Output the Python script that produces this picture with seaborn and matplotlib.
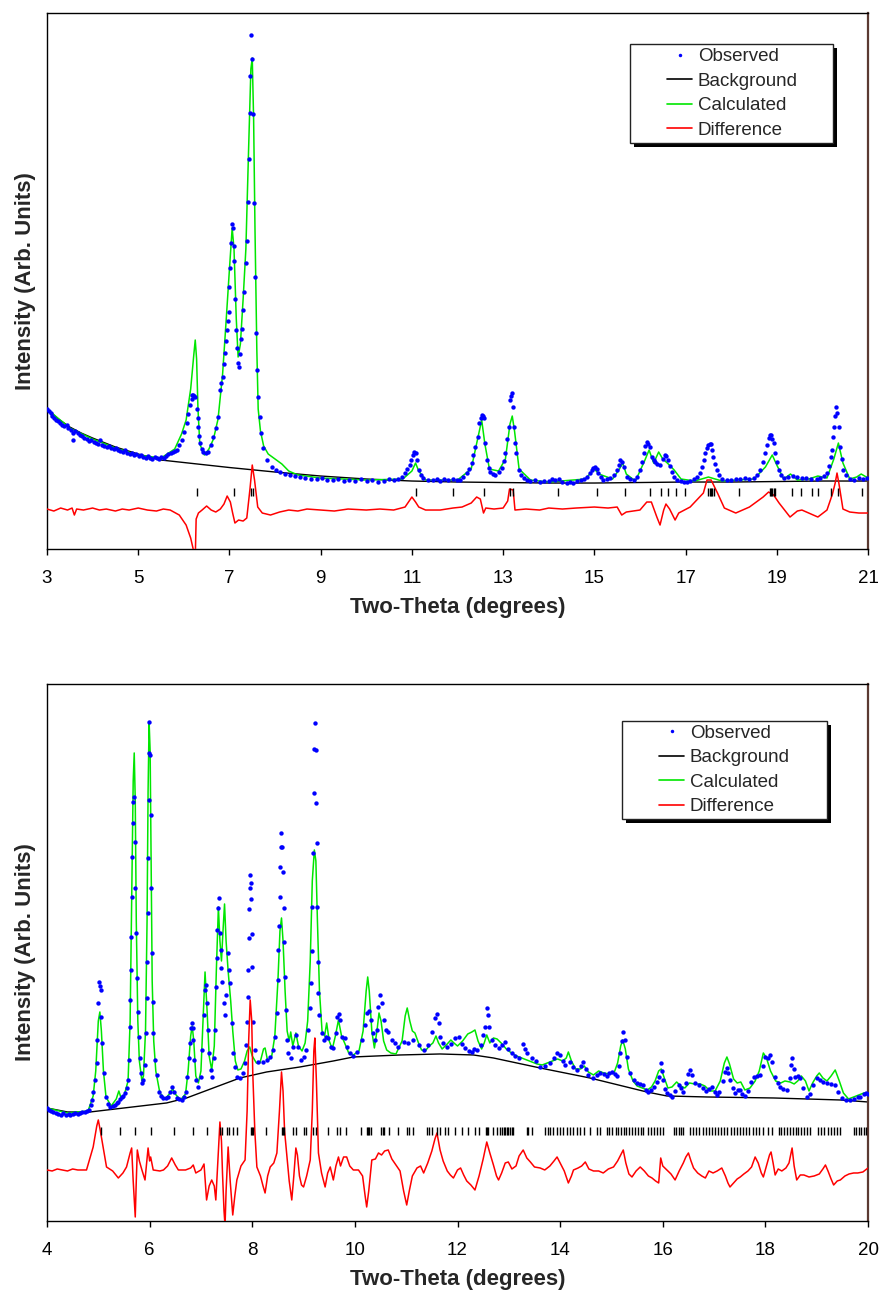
import matplotlib
matplotlib.use("Agg")
import matplotlib.pyplot as plt
import pandas as pd
import seaborn as sns
from matplotlib.lines import Line2D
from matplotlib.patches import Rectangle

# ---------------- top pattern (3-21 deg), intensity in arbitrary units ----------------
obs_top = [
    (3.00, 140), (3.04, 138), (3.08, 136), (3.12, 133), (3.16, 131), (3.20, 129), (3.25, 128),
    (3.29, 126), (3.33, 124), (3.38, 123), (3.43, 124), (3.47, 121), (3.52, 119), (3.57, 116),
    (3.58, 109), (3.62, 118), (3.67, 116), (3.72, 114), (3.77, 113), (3.82, 111), (3.87, 110),
    (3.92, 108), (3.97, 109), (4.02, 107), (4.07, 106), (4.12, 105), (4.16, 109), (4.21, 104),
    (4.26, 103), (4.31, 102), (4.36, 103), (4.41, 101), (4.46, 100), (4.51, 101), (4.56, 99),
    (4.61, 98), (4.66, 97), (4.71, 99), (4.76, 96), (4.81, 95), (4.86, 96), (4.91, 94),
    (4.96, 95), (5.01, 93), (5.06, 94), (5.11, 92), (5.16, 91), (5.21, 93), (5.26, 91),
    (5.31, 90), (5.36, 92), (5.41, 91), (5.46, 90), (5.51, 92), (5.56, 91), (5.61, 93),
    (5.66, 95), (5.71, 96), (5.76, 97), (5.80, 98), (5.84, 99), (5.90, 104), (5.95, 109),
    (6.00, 117), (6.06, 126), (6.10, 135), (6.14, 144), (6.17, 150), (6.19, 154), (6.21, 154),
    (6.23, 153), (6.25, 152), (6.28, 140), (6.30, 131), (6.32, 122), (6.34, 113), (6.36, 106),
    (6.40, 100), (6.43, 97), (6.48, 96), (6.54, 97), (6.60, 104), (6.65, 112), (6.70, 121),
    (6.76, 132), (6.79, 159), (6.82, 166), (6.85, 172), (6.88, 185), (6.90, 196), (6.92, 208),
    (6.94, 219), (6.96, 228), (6.98, 237), (6.99, 262), (7.01, 281), (7.04, 306), (7.05, 325),
    (7.07, 321), (7.09, 303), (7.10, 288), (7.12, 250), (7.14, 219), (7.17, 201), (7.19, 186),
    (7.20, 182), (7.23, 195), (7.26, 210), (7.28, 220), (7.30, 239), (7.33, 257), (7.36, 286),
    (7.38, 308), (7.40, 347), (7.42, 390), (7.44, 436), (7.46, 473), (7.47, 514), (7.50, 490),
    (7.52, 435), (7.54, 346), (7.56, 272), (7.59, 216), (7.61, 179), (7.63, 152), (7.66, 132),
    (7.69, 116), (7.74, 101), (7.82, 89), (7.93, 82), (8.02, 79), (8.11, 77), (8.22, 75),
    (8.33, 74), (8.44, 73), (8.55, 72), (8.66, 71), (8.78, 70), (8.91, 70), (9.02, 71),
    (9.14, 69), (9.27, 69), (9.39, 70), (9.51, 68), (9.63, 69), (9.75, 68), (9.88, 70),
    (10.01, 68), (10.13, 69), (10.26, 67), (10.38, 68), (10.50, 70), (10.60, 69), (10.70, 70),
    (10.78, 72), (10.85, 76), (10.90, 80), (10.95, 84), (10.99, 89), (11.02, 94), (11.05, 97),
    (11.08, 96), (11.11, 89), (11.16, 79), (11.21, 74), (11.25, 71), (11.36, 69), (11.47, 69),
    (11.55, 70), (11.62, 68), (11.71, 70), (11.80, 69), (11.90, 70), (11.98, 69), (12.06, 69),
    (12.13, 72), (12.20, 76), (12.26, 80), (12.31, 86), (12.35, 94), (12.39, 102), (12.44, 112),
    (12.48, 126), (12.51, 131), (12.53, 134), (12.55, 133), (12.57, 131), (12.60, 106),
    (12.64, 89), (12.68, 81), (12.71, 77), (12.77, 75), (12.82, 74), (12.90, 77), (12.97, 81),
    (13.01, 88), (13.04, 96), (13.08, 110), (13.12, 122), (13.15, 149), (13.17, 153),
    (13.19, 156), (13.21, 142), (13.24, 122), (13.27, 106), (13.29, 96), (13.34, 79),
    (13.40, 74), (13.45, 71), (13.53, 69), (13.60, 68), (13.70, 69), (13.81, 67), (13.90, 68),
    (14.00, 68), (14.07, 70), (14.14, 69), (14.22, 70), (14.30, 67), (14.40, 66), (14.47, 67),
    (14.54, 66), (14.62, 68), (14.70, 69), (14.77, 70), (14.84, 72), (14.90, 76), (14.94, 79),
    (14.98, 81), (15.02, 82), (15.05, 80), (15.09, 76), (15.14, 72), (15.20, 69), (15.28, 70),
    (15.35, 71), (15.42, 74), (15.49, 79), (15.54, 84), (15.57, 89), (15.60, 87), (15.64, 82),
    (15.71, 72), (15.78, 70), (15.86, 69), (15.93, 72), (16.00, 79), (16.05, 87), (16.09, 96),
    (16.12, 103), (16.15, 107), (16.18, 105), (16.21, 102), (16.26, 92), (16.30, 89),
    (16.33, 87), (16.38, 85), (16.44, 84), (16.50, 90), (16.55, 94), (16.58, 93), (16.62, 89),
    (16.66, 83), (16.70, 77), (16.75, 72), (16.81, 69), (16.90, 68), (16.97, 67), (17.03, 67),
    (17.10, 68), (17.18, 70), (17.25, 72), (17.31, 76), (17.36, 82), (17.40, 89), (17.43, 96),
    (17.46, 101), (17.49, 104), (17.53, 105), (17.56, 105), (17.58, 99), (17.61, 92),
    (17.65, 85), (17.69, 79), (17.74, 74), (17.80, 70), (17.90, 69), (18.00, 69), (18.10, 70),
    (18.20, 70), (18.30, 71), (18.40, 70), (18.49, 71), (18.57, 74), (18.64, 79), (18.70, 87),
    (18.75, 96), (18.79, 104), (18.82, 111), (18.85, 114), (18.87, 114), (18.90, 110),
    (18.93, 106), (18.96, 96), (19.00, 87), (19.04, 79), (19.09, 74), (19.15, 71), (19.25, 72),
    (19.35, 73), (19.45, 72), (19.55, 71), (19.65, 71), (19.75, 70), (19.88, 70), (19.95, 71),
    (20.03, 73), (20.10, 76), (20.15, 83), (20.19, 92), (20.21, 99), (20.24, 112), (20.26, 122),
    (20.28, 133), (20.30, 142), (20.33, 136), (20.36, 122), (20.39, 102), (20.42, 90),
    (20.46, 79), (20.52, 74), (20.61, 70), (20.70, 69), (20.80, 71), (20.90, 70), (20.98, 71),
]

calc_top = [
    (3.0, 140), (3.5, 121), (4.0, 110), (4.5, 101), (5.0, 94), (5.5, 91), (5.8, 100),
    (5.95, 115), (6.05, 129), (6.15, 160), (6.22, 195), (6.25, 209), (6.28, 190), (6.31, 140),
    (6.35, 105), (6.45, 94), (6.55, 100), (6.65, 110), (6.75, 130), (6.85, 175), (6.93, 230),
    (7.00, 280), (7.06, 321), (7.10, 300), (7.15, 230), (7.19, 192), (7.24, 205), (7.30, 250),
    (7.36, 300), (7.42, 400), (7.47, 480), (7.50, 491), (7.53, 430), (7.56, 320), (7.60, 200),
    (7.63, 140), (7.68, 118), (7.75, 103), (7.85, 95), (8.0, 90), (8.15, 85), (8.3, 78),
    (8.5, 74), (9.0, 71), (10.0, 69), (10.8, 70), (11.0, 78), (11.08, 86), (11.15, 78),
    (11.3, 69), (12.0, 69), (12.3, 80), (12.45, 112), (12.53, 129), (12.6, 105), (12.7, 80),
    (12.9, 78), (13.05, 90), (13.15, 125), (13.2, 133), (13.25, 118), (13.35, 80), (13.6, 69),
    (14.0, 67), (14.8, 70), (15.0, 80), (15.1, 75), (15.4, 70), (15.55, 80), (15.62, 86),
    (15.7, 75), (15.9, 68), (16.1, 88), (16.2, 99), (16.3, 86), (16.41, 97), (16.5, 90),
    (16.6, 86), (16.75, 79), (16.9, 70), (17.2, 68), (17.5, 72), (17.8, 68), (18.5, 70),
    (18.75, 82), (18.9, 94), (19.0, 84), (19.15, 70), (19.3, 75), (19.45, 69), (19.7, 70),
    (19.9, 73), (20.1, 71), (20.25, 90), (20.35, 106), (20.45, 86), (20.6, 70), (20.75, 72),
    (20.85, 75), (21.0, 71),
]

bg_top = [
    (3.0, 140), (3.25, 130), (3.5, 122), (3.75, 116), (4.0, 111), (4.5, 102), (5.0, 95),
    (5.5, 89), (6.0, 86.5), (7.0, 81.5), (8.0, 77), (9.0, 73), (10.0, 70), (11.0, 68),
    (12.0, 67), (13.0, 66.5), (14.0, 66), (15.0, 66), (16.0, 66.5), (17.0, 67), (18.0, 67),
    (19.0, 67.5), (20.0, 68), (21.0, 68),
]

diff_top = [
    (3.0, 40), (3.15, 38), (3.3, 41), (3.45, 39), (3.55, 41), (3.6, 34), (3.65, 40), (3.8, 39),
    (4.0, 41), (4.15, 39), (4.3, 40), (4.5, 38), (4.65, 40), (4.8, 39), (5.0, 41), (5.2, 39),
    (5.4, 38), (5.55, 40), (5.7, 39), (5.9, 34), (6.05, 24), (6.15, 11), (6.2, 1), (6.25, -10),
    (6.27, 30), (6.32, 36), (6.4, 39), (6.5, 43), (6.6, 39), (6.7, 37), (6.8, 40), (6.88, 45),
    (6.95, 53), (7.02, 47), (7.07, 36), (7.12, 26), (7.2, 29), (7.3, 28), (7.38, 31),
    (7.45, 60), (7.50, 84), (7.55, 69), (7.62, 42), (7.72, 36), (7.9, 34), (8.1, 37),
    (8.3, 39), (8.5, 38), (8.7, 40), (9.0, 39), (9.3, 38), (9.6, 40), (10.0, 39), (10.3, 40),
    (10.6, 39), (10.85, 42), (11.0, 52), (11.08, 47), (11.15, 42), (11.3, 39), (11.62, 39),
    (11.9, 41), (12.1, 42), (12.3, 46), (12.42, 52), (12.5, 50), (12.57, 36), (12.62, 41),
    (12.8, 40), (13.0, 41), (13.1, 48), (13.14, 60), (13.22, 59), (13.26, 39), (13.5, 40),
    (13.8, 39), (14.0, 41), (14.3, 40), (14.6, 41), (15.0, 42), (15.3, 41), (15.5, 42),
    (15.6, 34), (15.7, 37), (16.0, 39), (16.15, 47), (16.25, 47), (16.37, 32), (16.44, 24),
    (16.52, 39), (16.57, 45), (16.65, 40), (16.77, 29), (16.85, 36), (17.1, 42), (17.39, 56),
    (17.47, 69), (17.56, 69), (17.7, 56), (17.85, 41), (18.1, 36), (18.4, 42), (18.7, 52),
    (18.82, 57), (18.93, 54), (19.05, 46), (19.29, 32), (19.45, 38), (19.55, 39), (19.7, 36),
    (19.9, 32), (20.1, 39), (20.22, 55), (20.28, 66), (20.32, 76), (20.36, 66), (20.45, 40),
    (20.6, 37), (20.8, 36), (21.0, 36),
]

ticks_top = [6.28, 7.10, 7.48, 7.51, 11.09, 11.90, 12.57, 13.15, 13.21, 14.21, 15.05, 15.68,
             16.22, 16.46, 16.62, 16.79, 16.98, 17.50, 17.53, 17.56, 17.59, 17.62, 18.18,
             18.84, 18.87, 18.90, 18.93, 18.96, 19.34, 19.53, 19.77, 19.90, 20.19, 20.35, 20.87]

# ---------------- bottom pattern (4-20 deg) ----------------
obs_bot = [
    (4.00, 113), (4.04, 111), (4.08, 110), (4.12, 109), (4.17, 108), (4.22, 107), (4.27, 106),
    (4.32, 108), (4.37, 106), (4.42, 107), (4.45, 106), (4.50, 107), (4.55, 108), (4.60, 107),
    (4.64, 108), (4.69, 109), (4.74, 109), (4.78, 110), (4.81, 111), (4.85, 116), (4.87, 121),
    (4.90, 129), (4.94, 141), (4.97, 158), (4.98, 181), (5.00, 218), (5.02, 239), (5.04, 235),
    (5.05, 231), (5.06, 204), (5.08, 178), (5.11, 148), (5.15, 124), (5.19, 117), (5.23, 114),
    (5.28, 115), (5.33, 116), (5.36, 118), (5.39, 119), (5.43, 122), (5.46, 124), (5.49, 125),
    (5.52, 128), (5.55, 133), (5.58, 141), (5.60, 161), (5.61, 194), (5.62, 221), (5.63, 251),
    (5.64, 284), (5.65, 324), (5.66, 364), (5.67, 398), (5.68, 419), (5.70, 424), (5.71, 379),
    (5.72, 333), (5.73, 288), (5.76, 243), (5.78, 209), (5.80, 184), (5.81, 163), (5.83, 148),
    (5.86, 138), (5.88, 141), (5.91, 156), (5.93, 188), (5.94, 223), (5.95, 259), (5.96, 308),
    (5.97, 363), (5.98, 421), (5.985, 468), (5.99, 499), (6.01, 466), (6.02, 406), (6.03, 333),
    (6.04, 268), (6.06, 219), (6.07, 188), (6.11, 161), (6.14, 146), (6.19, 129), (6.23, 125),
    (6.27, 123), (6.31, 123), (6.35, 124), (6.40, 129), (6.44, 134), (6.48, 129), (6.53, 123),
    (6.58, 122), (6.63, 121), (6.67, 124), (6.71, 129), (6.73, 144), (6.76, 163), (6.79, 178),
    (6.81, 193), (6.82, 198), (6.84, 193), (6.85, 181), (6.87, 161), (6.90, 141), (6.95, 134),
    (7.00, 144), (7.02, 171), (7.05, 206), (7.07, 231), (7.09, 236), (7.11, 218), (7.13, 191),
    (7.16, 168), (7.19, 151), (7.22, 144), (7.26, 163), (7.27, 191), (7.29, 234), (7.31, 263),
    (7.32, 291), (7.33, 313), (7.35, 323), (7.37, 288), (7.39, 271), (7.40, 253), (7.42, 239),
    (7.45, 218), (7.47, 206), (7.49, 226), (7.52, 268), (7.54, 251), (7.57, 238), (7.60, 198),
    (7.63, 168), (7.66, 154), (7.71, 144), (7.76, 143), (7.81, 148), (7.85, 158), (7.87, 176),
    (7.89, 199), (7.91, 224), (7.92, 251), (7.935, 283), (7.945, 312), (7.955, 333),
    (7.965, 346), (7.975, 338), (7.985, 322), (7.99, 287), (8.00, 254), (8.02, 199),
    (8.05, 171), (8.12, 159), (8.20, 159), (8.28, 161), (8.35, 164), (8.41, 171), (8.44, 184),
    (8.48, 208), (8.50, 241), (8.51, 271), (8.52, 295), (8.535, 324), (8.545, 354),
    (8.555, 374), (8.565, 388), (8.575, 374), (8.59, 349), (8.61, 313), (8.62, 279),
    (8.63, 244), (8.65, 211), (8.67, 181), (8.70, 168), (8.75, 163), (8.80, 174), (8.85, 186),
    (8.90, 174), (8.95, 161), (9.00, 164), (9.05, 171), (9.09, 191), (9.13, 213), (9.15, 238),
    (9.16, 270), (9.17, 314), (9.185, 368), (9.195, 428), (9.205, 472), (9.22, 498),
    (9.235, 471), (9.245, 418), (9.26, 378), (9.27, 314), (9.28, 259), (9.29, 228),
    (9.31, 206), (9.35, 188), (9.39, 181), (9.44, 184), (9.48, 183), (9.53, 174), (9.58, 173),
    (9.63, 188), (9.66, 204), (9.69, 207), (9.71, 201), (9.74, 184), (9.81, 183), (9.85, 174),
    (9.91, 168), (9.97, 165), (10.05, 169), (10.13, 181), (10.20, 196), (10.23, 208),
    (10.28, 210), (10.31, 201), (10.35, 188), (10.39, 181), (10.43, 191), (10.46, 214),
    (10.49, 226), (10.52, 218), (10.56, 201), (10.61, 191), (10.65, 189), (10.72, 181),
    (10.78, 178), (10.85, 174), (10.95, 179), (11.04, 178), (11.14, 181), (11.24, 176),
    (11.34, 171), (11.43, 176), (11.50, 189), (11.56, 203), (11.60, 207), (11.63, 198),
    (11.66, 184), (11.72, 178), (11.79, 174), (11.87, 177), (11.95, 183), (12.02, 184),
    (12.08, 177), (12.15, 173), (12.22, 170), (12.28, 169), (12.33, 172), (12.38, 171),
    (12.45, 176), (12.50, 186), (12.54, 194), (12.57, 213), (12.60, 206), (12.62, 194),
    (12.67, 181), (12.73, 176), (12.80, 173), (12.86, 176), (12.93, 179), (12.99, 172),
    (13.06, 168), (13.13, 165), (13.19, 163), (13.27, 177), (13.31, 172), (13.35, 168),
    (13.45, 163), (13.52, 160), (13.61, 154), (13.70, 155), (13.81, 158), (13.88, 163),
    (13.94, 168), (13.99, 166), (14.05, 160), (14.10, 156), (14.19, 159), (14.26, 154),
    (14.33, 151), (14.40, 155), (14.45, 159), (14.50, 152), (14.55, 146), (14.65, 143),
    (14.72, 146), (14.78, 148), (14.85, 147), (14.91, 145), (14.96, 148), (15.01, 149),
    (15.06, 147), (15.10, 145), (15.14, 155), (15.17, 168), (15.20, 180), (15.23, 189),
    (15.26, 181), (15.30, 164), (15.36, 148), (15.43, 141), (15.49, 138), (15.55, 137),
    (15.62, 136), (15.68, 131), (15.72, 129), (15.77, 131), (15.82, 134), (15.88, 139),
    (15.92, 144), (15.96, 158), (15.99, 150), (16.01, 141), (16.05, 132), (16.08, 128),
    (16.14, 126), (16.18, 124), (16.24, 130), (16.31, 136), (16.36, 133), (16.40, 129),
    (16.46, 138), (16.50, 147), (16.53, 151), (16.57, 146), (16.63, 138), (16.70, 136),
    (16.79, 133), (16.85, 130), (16.90, 132), (16.96, 134), (17.01, 129), (17.05, 126),
    (17.10, 129), (17.17, 140), (17.22, 149), (17.25, 153), (17.28, 148), (17.31, 141),
    (17.36, 133), (17.41, 128), (17.46, 131), (17.50, 131), (17.55, 127), (17.61, 125),
    (17.66, 130), (17.72, 139), (17.77, 144), (17.84, 145), (17.90, 146), (17.95, 155),
    (18.00, 164), (18.05, 163), (18.09, 166), (18.13, 159), (18.19, 144), (18.24, 138),
    (18.29, 134), (18.35, 132), (18.42, 131), (18.47, 143), (18.50, 156), (18.52, 163),
    (18.55, 152), (18.58, 144), (18.63, 145), (18.68, 143), (18.74, 133), (18.81, 124),
    (18.87, 127), (18.93, 136), (19.00, 143), (19.06, 141), (19.12, 139), (19.20, 138),
    (19.28, 137), (19.36, 136), (19.42, 129), (19.49, 123), (19.57, 121), (19.65, 121),
    (19.72, 122), (19.80, 124), (19.85, 124), (19.92, 127), (19.97, 128), (20.00, 127),
]

calc_bot = [
    (4.0, 113), (4.4, 108), (4.8, 110), (4.9, 125), (4.95, 150), (5.0, 200), (5.03, 209),
    (5.06, 190), (5.1, 150), (5.15, 124), (5.25, 115), (5.35, 122), (5.40, 130), (5.45, 122),
    (5.5, 125), (5.58, 140), (5.62, 200), (5.65, 320), (5.68, 440), (5.70, 468), (5.72, 420),
    (5.74, 300), (5.77, 200), (5.80, 160), (5.85, 140), (5.88, 145), (5.92, 190), (5.95, 300),
    (5.97, 430), (5.99, 499), (6.01, 470), (6.03, 350), (6.05, 240), (6.08, 180), (6.12, 150),
    (6.2, 128), (6.3, 122), (6.4, 128), (6.45, 132), (6.5, 127), (6.6, 121), (6.7, 127),
    (6.75, 150), (6.80, 185), (6.83, 195), (6.86, 180), (6.9, 145), (6.95, 138), (7.0, 150),
    (7.04, 200), (7.08, 249), (7.12, 210), (7.16, 165), (7.21, 151), (7.26, 175), (7.30, 250),
    (7.34, 314), (7.37, 280), (7.40, 260), (7.43, 290), (7.46, 317), (7.49, 280), (7.53, 250),
    (7.58, 220), (7.62, 190), (7.67, 160), (7.72, 151), (7.78, 152), (7.85, 160), (7.90, 170),
    (7.95, 174), (8.0, 165), (8.08, 158), (8.15, 158), (8.22, 172), (8.25, 173), (8.30, 160),
    (8.38, 165), (8.44, 185), (8.50, 240), (8.54, 290), (8.57, 303), (8.60, 280), (8.64, 230),
    (8.68, 190), (8.72, 180), (8.75, 189), (8.79, 175), (8.85, 188), (8.90, 175), (8.97, 170),
    (9.03, 178), (9.08, 200), (9.13, 260), (9.17, 340), (9.21, 371), (9.24, 360), (9.27, 300),
    (9.31, 230), (9.36, 190), (9.41, 185), (9.45, 198), (9.50, 180), (9.56, 172), (9.62, 185),
    (9.68, 201), (9.74, 185), (9.80, 178), (9.88, 168), (9.97, 166), (10.08, 170),
    (10.16, 190), (10.22, 230), (10.25, 244), (10.28, 230), (10.33, 190), (10.38, 173),
    (10.43, 190), (10.47, 208), (10.51, 200), (10.56, 180), (10.62, 171), (10.70, 168),
    (10.80, 167), (10.92, 180), (10.98, 205), (11.02, 213), (11.07, 200), (11.12, 190),
    (11.17, 188), (11.24, 178), (11.3, 171), (11.37, 170), (11.45, 175), (11.52, 178),
    (11.58, 185), (11.63, 178), (11.70, 172), (11.80, 177), (11.87, 181), (11.93, 178),
    (12.0, 175), (12.1, 180), (12.2, 187), (12.28, 189), (12.34, 191), (12.40, 180),
    (12.47, 172), (12.52, 178), (12.57, 186), (12.63, 178), (12.70, 183), (12.77, 182),
    (12.85, 178), (12.95, 172), (13.05, 168), (13.15, 165), (13.25, 163), (13.35, 161),
    (13.45, 159), (13.55, 157), (13.65, 156), (13.75, 158), (13.85, 160), (13.95, 162),
    (14.05, 160), (14.12, 163), (14.16, 169), (14.22, 160), (14.30, 152), (14.40, 152),
    (14.47, 155), (14.55, 149), (14.65, 146), (14.75, 150), (14.85, 148), (14.95, 147),
    (15.05, 148), (15.12, 158), (15.18, 175), (15.22, 181), (15.27, 172), (15.33, 152),
    (15.42, 140), (15.50, 135), (15.60, 133), (15.70, 131), (15.78, 134), (15.85, 140),
    (15.92, 150), (15.97, 152), (16.03, 143), (16.10, 133), (16.18, 134), (16.27, 139),
    (16.35, 135), (16.43, 133), (16.52, 138), (16.62, 137), (16.73, 137), (16.82, 135),
    (16.92, 130), (17.02, 130), (17.12, 140), (17.20, 158), (17.25, 164), (17.30, 157),
    (17.38, 142), (17.45, 138), (17.52, 139), (17.60, 131), (17.70, 133), (17.80, 140),
    (17.88, 150), (17.96, 168), (18.02, 163), (18.10, 150), (18.20, 140), (18.30, 138),
    (18.38, 140), (18.48, 139), (18.56, 137), (18.63, 140), (18.70, 145), (18.78, 140),
    (18.85, 130), (18.92, 138), (19.00, 145), (19.05, 148), (19.12, 143), (19.20, 140),
    (19.28, 145), (19.36, 151), (19.44, 140), (19.52, 128), (19.62, 122), (19.72, 124),
    (19.82, 126), (19.92, 128), (20.0, 128),
]

bg_bot = [
    (4.0, 113), (4.4, 109), (4.84, 109), (5.5, 113), (6.33, 118), (6.72, 123), (7.24, 133),
    (7.76, 143), (8.28, 149), (8.93, 154), (9.58, 160), (9.97, 164), (10.88, 166),
    (11.66, 167), (12.31, 166), (12.70, 163), (13.61, 153), (14.58, 143), (15.69, 129),
    (16.08, 125), (16.86, 124), (18.16, 123), (19.46, 121), (20.0, 119),
]

diff_bot = [
    (4.0, 51), (4.1, 50), (4.2, 52), (4.3, 51), (4.4, 50), (4.5, 52), (4.6, 51), (4.77, 51),
    (4.90, 74), (4.97, 95), (5.00, 101), (5.04, 90), (5.07, 81), (5.16, 54), (5.28, 50),
    (5.39, 43), (5.48, 48), (5.55, 54), (5.62, 68), (5.65, 73), (5.68, 40), (5.72, 4),
    (5.74, 40), (5.76, 71), (5.80, 60), (5.85, 51), (5.91, 41), (5.97, 73), (6.00, 60),
    (6.02, 64), (6.07, 51), (6.2, 50), (6.27, 51), (6.35, 55), (6.43, 63), (6.50, 56),
    (6.56, 51), (6.7, 51), (6.8, 53), (6.85, 56), (6.9, 48), (7.0, 51), (7.06, 57), (7.11, 21),
    (7.16, 35), (7.21, 41), (7.26, 35), (7.29, 21), (7.33, 60), (7.37, 99), (7.40, 80),
    (7.42, 48), (7.45, 10), (7.47, -5), (7.49, 30), (7.53, 74), (7.57, 40), (7.62, 6),
    (7.66, 25), (7.70, 41), (7.78, 55), (7.86, 61), (7.90, 110), (7.93, 180), (7.96, 221),
    (7.99, 200), (8.01, 148), (8.05, 90), (8.09, 54), (8.16, 45), (8.21, 35), (8.25, 28),
    (8.30, 45), (8.35, 54), (8.42, 58), (8.48, 68), (8.53, 110), (8.57, 149), (8.60, 130),
    (8.63, 90), (8.67, 68), (8.72, 40), (8.77, 21), (8.81, 45), (8.85, 73), (8.88, 66),
    (8.92, 45), (8.96, 36), (9.00, 34), (9.06, 45), (9.13, 61), (9.17, 110), (9.20, 170),
    (9.22, 183), (9.25, 140), (9.29, 68), (9.35, 48), (9.42, 34), (9.47, 48), (9.52, 54),
    (9.58, 41), (9.63, 55), (9.68, 64), (9.72, 55), (9.78, 64), (9.84, 64), (9.90, 55),
    (9.97, 51), (10.07, 51), (10.15, 45), (10.20, 25), (10.23, 14), (10.27, 30), (10.33, 61),
    (10.40, 62), (10.46, 68), (10.52, 66), (10.58, 70), (10.65, 71), (10.72, 62), (10.80, 56),
    (10.88, 50), (10.95, 30), (11.01, 16), (11.06, 30), (11.12, 45), (11.21, 53), (11.28, 55),
    (11.34, 48), (11.42, 58), (11.50, 70), (11.56, 82), (11.60, 88), (11.66, 71), (11.72, 60),
    (11.80, 50), (11.86, 46), (11.92, 43), (12.00, 51), (12.06, 53), (12.12, 46), (12.18, 40),
    (12.26, 36), (12.34, 31), (12.42, 45), (12.50, 62), (12.57, 79), (12.63, 68), (12.70, 56),
    (12.76, 45), (12.80, 41), (12.86, 48), (12.93, 58), (12.99, 59), (13.06, 52), (13.14, 55),
    (13.20, 65), (13.28, 71), (13.35, 63), (13.42, 59), (13.50, 54), (13.61, 53), (13.70, 51),
    (13.80, 55), (13.88, 60), (13.94, 64), (14.00, 58), (14.08, 50), (14.16, 38), (14.22, 45),
    (14.26, 51), (14.35, 53), (14.42, 55), (14.49, 59), (14.56, 52), (14.65, 50), (14.75, 50),
    (14.84, 48), (14.94, 52), (15.04, 54), (15.12, 60), (15.18, 66), (15.23, 71), (15.28, 58),
    (15.34, 47), (15.40, 44), (15.48, 50), (15.56, 54), (15.64, 50), (15.72, 45), (15.79, 43),
    (15.86, 40), (15.92, 38), (15.96, 63), (16.00, 55), (16.08, 51), (16.16, 47), (16.24, 41),
    (16.32, 50), (16.40, 58), (16.45, 64), (16.50, 68), (16.55, 60), (16.60, 53), (16.68, 48),
    (16.76, 45), (16.83, 43), (16.90, 50), (16.98, 48), (17.06, 50), (17.15, 53), (17.22, 45),
    (17.27, 38), (17.31, 34), (17.38, 38), (17.45, 42), (17.51, 44), (17.58, 47), (17.66, 50),
    (17.73, 54), (17.80, 64), (17.86, 58), (17.92, 48), (17.96, 44), (18.02, 55), (18.08, 66),
    (18.11, 69), (18.15, 58), (18.19, 46), (18.25, 52), (18.32, 50), (18.40, 53), (18.46, 58),
    (18.50, 68), (18.52, 73), (18.56, 55), (18.61, 41), (18.68, 46), (18.75, 46), (18.85, 44),
    (18.95, 45), (19.05, 47), (19.12, 52), (19.17, 56), (19.22, 50), (19.28, 42), (19.33, 36),
    (19.40, 40), (19.46, 41), (19.55, 45), (19.63, 47), (19.72, 48), (19.80, 48), (19.90, 49),
    (20.0, 53),
]

ticks_bot = [5.05, 5.42, 5.72, 6.02, 6.48, 6.85, 7.12, 7.37, 7.41, 7.50, 7.55, 7.63, 7.71,
             7.97, 7.99, 8.01, 8.27, 8.57, 8.59, 8.61, 8.80, 8.85, 9.01, 9.05, 9.19, 9.24,
             9.48, 9.65, 9.71, 9.83, 10.12, 10.24, 10.26, 10.28, 10.32, 10.50, 10.54, 10.57,
             10.67, 10.85, 11.01, 11.06, 11.13, 11.40, 11.45, 11.50, 11.60, 11.65, 11.76,
             11.82, 11.95, 12.08, 12.21, 12.34, 12.41, 12.55, 12.57, 12.60, 12.70, 12.77,
             12.83, 12.86, 12.90, 12.93, 12.96, 12.99, 13.03, 13.06, 13.09, 13.35, 13.38,
             13.45, 13.71, 13.76, 13.81, 13.86, 13.94, 14.00, 14.06, 14.13, 14.19, 14.26,
             14.33, 14.39, 14.46, 14.58, 14.71, 14.78, 14.91, 14.96, 15.02, 15.08, 15.13,
             15.18, 15.24, 15.29, 15.35, 15.40, 15.46, 15.51, 15.57, 15.62, 15.72, 15.77,
             15.83, 15.88, 15.94, 16.01, 16.21, 16.26, 16.31, 16.36, 16.40, 16.53, 16.59,
             16.65, 16.71, 16.78, 16.84, 16.90, 16.96, 17.02, 17.08, 17.14, 17.20, 17.26,
             17.33, 17.39, 17.45, 17.51, 17.57, 17.63, 17.69, 17.75, 17.81, 17.87, 17.96,
             18.06, 18.13, 18.26, 18.31, 18.37, 18.42, 18.48, 18.53, 18.59, 18.64, 18.70,
             18.75, 18.81, 18.87, 19.02, 19.08, 19.14, 19.22, 19.28, 19.34, 19.40, 19.46,
             19.72, 19.77, 19.82, 19.87, 19.92, 19.97]

series_labels = ["Observed", "Background", "Calculated", "Difference"]
series_colors = {"Observed": "#0000ff", "Background": "#000000",
                 "Calculated": "#00e600", "Difference": "#ff0000"}

sns.set_theme(style="white")
plt.rcParams["font.family"] = ["Liberation Sans", "DejaVu Sans"]


def to_df(pairs):
    return pd.DataFrame(pairs, columns=["two_theta", "intensity"])


def draw_panel(ax, obs, calc, bg, diff, ticks, tick_y, xlim, xticks, ylim, box):
    sns.lineplot(data=to_df(bg), x="two_theta", y="intensity", ax=ax, estimator=None,
                 sort=False, color=series_colors["Background"], linewidth=1.0, zorder=2)
    sns.lineplot(data=to_df(calc), x="two_theta", y="intensity", ax=ax, estimator=None,
                 sort=False, color=series_colors["Calculated"], linewidth=1.1, zorder=3)
    sns.scatterplot(data=to_df(obs), x="two_theta", y="intensity", ax=ax,
                    color=series_colors["Observed"], s=10, linewidth=0, zorder=4)
    sns.lineplot(data=to_df(diff), x="two_theta", y="intensity", ax=ax, estimator=None,
                 sort=False, color=series_colors["Difference"], linewidth=1.1, zorder=5)
    ax.plot(ticks, [tick_y] * len(ticks), linestyle="none", marker="|", markersize=5.5,
            markeredgewidth=1.0, color="black", zorder=6)

    ax.set_xlim(*xlim)
    ax.set_ylim(*ylim)
    ax.set_xticks(xticks)
    ax.set_yticks([])
    ax.tick_params(axis="x", direction="out", length=4, width=1, pad=11,
                   labelsize=13.5, bottom=True, colors="black")
    ax.set_xlabel("Two-Theta (degrees)", fontsize=16, fontweight="bold", labelpad=7)
    ax.set_ylabel("Intensity (Arb. Units)", fontsize=16, fontweight="bold", labelpad=8)
    for side in ["left", "bottom", "top"]:
        ax.spines[side].set_color("black")
        ax.spines[side].set_linewidth(1.0)
    ax.spines["right"].set_color("#5b3a32")
    ax.spines["right"].set_linewidth(1.6)

    # legend box with black drop shadow, as in the original spreadsheet chart
    x0, y0, x1, y1 = box
    ax.add_patch(Rectangle((x0 + 0.005, y0 - 0.008), x1 - x0, y1 - y0, transform=ax.transAxes,
                           facecolor="black", edgecolor="none", zorder=9))
    ax.add_patch(Rectangle((x0, y0), x1 - x0, y1 - y0, transform=ax.transAxes,
                           facecolor="white", edgecolor="#222222", linewidth=1.0, zorder=10))
    handles = [
        Line2D([], [], linestyle="none", marker="o", markersize=2.5, markeredgewidth=0,
               color=series_colors["Observed"]),
        Line2D([], [], color=series_colors["Background"], linewidth=1.2),
        Line2D([], [], color=series_colors["Calculated"], linewidth=1.2),
        Line2D([], [], color=series_colors["Difference"], linewidth=1.2),
    ]
    leg = ax.legend(handles, series_labels, loc="center left",
                    bbox_to_anchor=(x0 + 0.045, (y0 + y1) / 2), borderaxespad=0,
                    borderpad=0, frameon=False, fontsize=13.5, handlelength=1.35,
                    handletextpad=0.3, labelspacing=0.39)
    leg.set_zorder(11)


fig = plt.figure(figsize=(8.8, 12.9), dpi=100)
ax_top = fig.add_axes([0.0534, 0.5744, 0.933, 0.4155])
ax_bot = fig.add_axes([0.0534, 0.0535, 0.933, 0.4163])

draw_panel(ax_top, obs_top, calc_top, bg_top, diff_top, ticks_top, 57,
           (3, 21), list(range(3, 22, 2)), (0, 536), (0.7101, 0.7575, 0.9574, 0.9422))
draw_panel(ax_bot, obs_bot, calc_bot, bg_bot, diff_bot, ticks_bot, 90,
           (4, 20), list(range(4, 21, 2)), (0, 537), (0.7004, 0.7486, 0.9501, 0.9311))

fig.savefig("out.png", dpi=100)
